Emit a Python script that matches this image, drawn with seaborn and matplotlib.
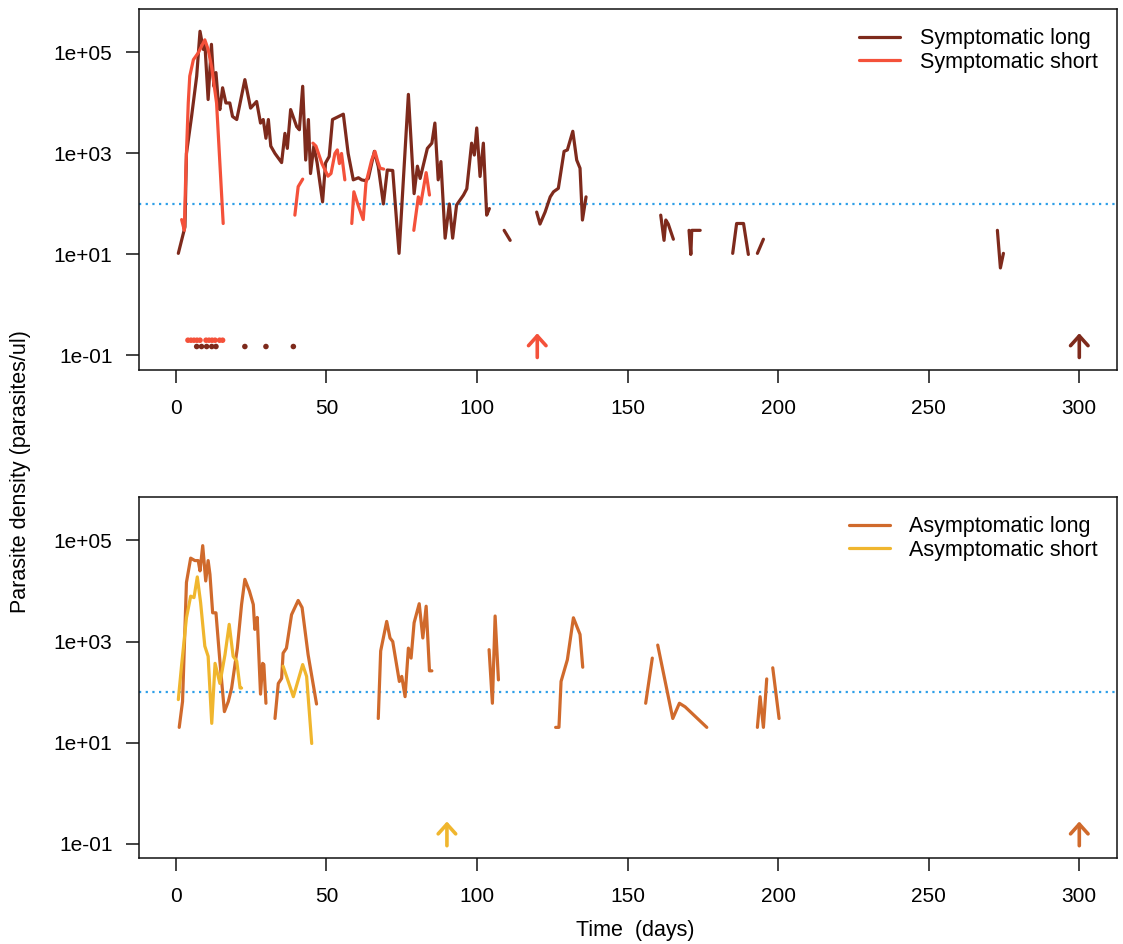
import numpy as np
import pandas as pd
import matplotlib
matplotlib.use("Agg")
import matplotlib.pyplot as plt
import seaborn as sns
from matplotlib.lines import Line2D

nan = np.nan

# -------------------------------
# data (days, parasites/ul); nan breaks a line into pieces
# -------------------------------
sym_long_days = [0.8, 3.0, 3.5, 5.2, 6.9, 8.0, 9.1, 9.6, 10.7, 11.8, 12.6, 13.3, 14.1, 14.6,
                 15.5, 16.6, 17.9, 18.8, 20.2, 22.9, 24.8, 26.8, 28.1, 29.0, 29.9, 30.7, 31.5,
                 32.9, 35.1, 36.2, 37.0, 38.1, 40.1, 41.0, 42.1, 43.1, 44.0, 44.7, 45.8, 46.9,
                 48.7, 49.7, 50.9, 52.0, 53.5, 55.6, 57.2, 58.9, 60.6, 61.7, 62.8, 63.9, 65.9,
                 67.2, 68.9, 70.2, 72.0, 74.1, 77.2, 79.1, 80.2, 81.1, 83.5, 85.0, 86.0, 87.1,
                 88.0, 89.4, 90.8, 91.9, 93.2, 95.5, 96.6, 98.2, 99.1, 99.9, 101.0, 102.1,
                 103.2, 104.1, nan,
                 109.0, 111.0, nan,
                 119.8, 120.9, 122.6, 124.3, 125.4, 127.0, 128.9, 130.0, 131.8, 133.1, 134.2,
                 135.0, 136.2, nan,
                 161.0, 162.1, 162.7, 163.5, 165.2, nan,
                 170.4, 171.0, 171.3, 174.1, nan,
                 184.9, 186.2, 188.5, 190.1, nan,
                 193.1, 195.1, nan,
                 272.8, 273.8, 274.8]
sym_long_vals = [10.5, 35, 1000, 5400, 34000, 263000, 115000, 155000, 11700, 145000, 21400,
                 40000, 10000, 7400, 20000, 10000, 10000, 5400, 4700, 29000, 7900, 10700, 4000,
                 4700, 2000, 4700, 1400, 1000, 660, 2500, 1260, 7400, 3400, 2950, 21400, 740,
                 4700, 400, 1400, 650, 110, 650, 870, 4700, 5200, 6000, 1000, 300, 330, 300,
                 290, 320, 1100, 550, 100, 470, 460, 10.5, 14800, 160, 560, 320, 1260, 1600,
                 4000, 300, 690, 21, 100, 21, 95, 150, 200, 1600, 930, 3200, 350, 1600, 60, 81,
                 nan,
                 30, 19, nan,
                 69, 40, 69, 138, 174, 204, 1100, 1175, 2750, 740, 510, 48, 138, nan,
                 60, 19, 48, 40, 20, nan,
                 30, 10, 30, 30, nan,
                 10.5, 41, 41, 10, nan,
                 10.5, 20, nan,
                 30, 5.4, 10.5]

sym_short_days = [1.9, 2.8, 3.3, 4.1, 4.6, 5.8, 7.4, 9.6, 10.7, 11.9, 13.5, 15.7, nan,
                  39.5, 40.6, 42.1, nan,
                  45.5, 46.5, 48.5, 50.5, 51.5, 52.8, 53.6, 54.3, 55.0, 56.1, nan,
                  58.4, 59.1, 60.5, 62.2, 63.1, 65.0, 66.1, 67.0, 67.8, 69.0, nan,
                  79.0, 80.5, 81.3, 83.1, 84.2]
sym_short_vals = [49, 30, 470, 10000, 34000, 72000, 98000, 178000, 115000, 50000, 10000, 41, nan,
                  60, 220, 310, nan,
                  1600, 1400, 630, 355, 400, 1000, 1175, 630, 1000, 300, nan,
                  41, 174, 95, 49, 257, 740, 1100, 700, 510, 490, nan,
                  30, 138, 100, 417, 150]

asym_long_days = [1.1, 2.2, 3.5, 4.9, 6.3, 7.4, 8.0, 8.9, 9.9, 10.7, 11.3, 12.2, 13.3, 14.6,
                  16.1, 17.4, 18.5, 20.4, 21.8, 22.9, 24.4, 25.7, 26.2, 27.0, 28.1, 28.8, 29.2,
                  29.9, nan,
                  32.9, 34.0, 35.1, 35.6, 36.7, 38.4, 40.6, 41.9, 43.9, 46.7, nan,
                  67.2, 68.0, 70.0, 71.1, 72.0, 74.2, 75.0, 76.1, 77.2, 78.1, 79.1, 80.8, 82.0,
                  83.1, 84.2, 85.0, nan,
                  104.0, 105.1, 106.0, 107.1, nan,
                  126.1, 127.2, 127.9, 130.0, 132.0, 134.2, 135.1, nan,
                  156.0, 158.2, nan,
                  160.0, 165.0, 167.2, 169.1, 176.3, nan,
                  193.1, 194.0, 195.1, 196.2, nan,
                  198.2, 200.3]
asym_long_vals = [20, 65, 14800, 44700, 40000, 40000, 25000, 79000, 15800, 40000, 21400, 3700,
                  3700, 410, 41, 65, 120, 740, 5400, 17000, 10000, 5400, 1740, 3000, 91, 370,
                  350, 60, nan,
                  30, 148, 186, 590, 740, 3400, 6500, 4700, 550, 58, nan,
                  30, 650, 2500, 1175, 1000, 162, 204, 81, 740, 470, 2350, 5600, 1175, 5000,
                  263, 263, nan,
                  690, 60, 3200, 174, nan,
                  20, 20, 162, 437, 2950, 1380, 310, nan,
                  60, 470, nan,
                  850, 30, 60, 51, 20, nan,
                  20, 81, 20, 182, nan,
                  302, 30]

asym_short_days = [0.8, 1.9, 3.5, 4.9, 6.0, 7.1, 8.2, 9.6, 10.7, 11.9, 13.0, 14.6, 16.3, 17.7,
                   19.0, 20.2, 21.3, 21.8, nan,
                   35.6, 39.0, 42.1, 43.4, 45.1]
asym_short_vals = [71, 347, 2950, 7900, 7400, 19000, 5900, 810, 510, 24, 370, 148, 550, 2190,
                   510, 410, 120, 120, nan,
                   325, 81, 350, 204, 9.6]

# samples below detection, drawn as dots near the bottom
sym_short_dot_days = [4, 5, 6, 7, 8, 10, 11, 12, 13, 14.5, 15.5]
sym_long_dot_days = [6.9, 8.5, 10.2, 11.9, 13.3, 22.9, 29.9, 39.0]
sym_short_dot_val = 0.2
sym_long_dot_val = 0.15

# follow-up end arrows: (day, base, tip)
sym_arrows = [(120, 0.091, 0.275), (300, 0.091, 0.275)]
asym_arrows = [(90, 0.091, 0.275), (300, 0.091, 0.275)]

threshold = 100
ytick_vals = [1e-1, 1e1, 1e3, 1e5]
ytick_labels = ["1e-01", "1e+01", "1e+03", "1e+05"]
xtick_vals = [0, 50, 100, 150, 200, 250, 300]

col_sym_long = "#7E2A1C"
col_sym_short = "#F4513A"
col_asym_long = "#D06A2C"
col_asym_short = "#F0B62E"
col_thr = "#2E9FE8"


def to_frame(days, vals):
    d = np.array(days, dtype=float)
    v = np.array(vals, dtype=float)
    seg = np.cumsum(np.isnan(d))
    df = pd.DataFrame({"day": d, "dens": v, "seg": seg})
    return df.dropna()


sns.set_style("ticks")
plt.rcParams["font.family"] = ["Liberation Sans", "DejaVu Sans"]
plt.rcParams["text.color"] = "black"
plt.rcParams["xtick.color"] = "black"
plt.rcParams["ytick.color"] = "black"

fig = plt.figure(figsize=(11.23, 9.44), dpi=100)
ax1 = fig.add_axes([0.1242, 0.608, 0.8704, 0.3824])
ax2 = fig.add_axes([0.1242, 0.0908, 0.8704, 0.3827])

LW = 2.3


def draw_panel(ax, series, dots, arrows, legend_labels, legend_cols):
    ax.axhline(threshold, color=col_thr, ls=(0, (1, 2)), lw=1.6, zorder=1)
    for days, vals, col in series:
        df = to_frame(days, vals)
        sns.lineplot(data=df, x="day", y="dens", units="seg", estimator=None,
                     color=col, lw=LW, ax=ax, legend=False, zorder=3)
    for ddays, dval, col in dots:
        sns.scatterplot(x=ddays, y=[dval] * len(ddays), color=col, s=16,
                        edgecolor="none", ax=ax, zorder=4)
    for (day, lo, hi), col in arrows:
        ax.annotate("", xy=(day, hi), xytext=(day, lo),
                    arrowprops=dict(arrowstyle="->,head_length=0.5,head_width=0.45",
                                    color=col, lw=2.6, mutation_scale=14,
                                    shrinkA=0, shrinkB=0))
    ax.set_yscale("log")
    ax.set_xlim(-12.1, 312.5)
    ax.set_ylim(10 ** -1.29, 10 ** 5.86)
    ax.set_yticks(ytick_vals)
    ax.set_yticklabels(ytick_labels)
    ax.yaxis.set_minor_locator(matplotlib.ticker.NullLocator())
    ax.set_xticks(xtick_vals)
    ax.set_xlabel("")
    ax.set_ylabel("")
    ax.tick_params(axis="both", length=9.5, width=1.1, labelsize=15, color="#111111",
                   labelcolor="black", direction="out")
    ax.tick_params(axis="x", pad=11)
    ax.tick_params(axis="y", pad=10)
    for sp in ax.spines.values():
        sp.set_visible(True)
        sp.set_linewidth(1.1)
        sp.set_color("#111111")
    handles = [Line2D([], [], color=c, lw=LW) for c in legend_cols]
    ax.legend(handles, legend_labels, loc="upper right", frameon=False, fontsize=15.5,
              handlelength=1.9, handletextpad=0.9, labelspacing=0.1,
              borderaxespad=0.5, labelcolor="black")


draw_panel(ax1,
           [(sym_long_days, sym_long_vals, col_sym_long),
            (sym_short_days, sym_short_vals, col_sym_short)],
           [(sym_short_dot_days, sym_short_dot_val, col_sym_short),
            (sym_long_dot_days, sym_long_dot_val, col_sym_long)],
           [(sym_arrows[0], col_sym_short), (sym_arrows[1], col_sym_long)],
           ["Symptomatic long", "Symptomatic short"],
           [col_sym_long, col_sym_short])

draw_panel(ax2,
           [(asym_long_days, asym_long_vals, col_asym_long),
            (asym_short_days, asym_short_vals, col_asym_short)],
           [],
           [(asym_arrows[0], col_asym_short), (asym_arrows[1], col_asym_long)],
           ["Asymptomatic long", "Asymptomatic short"],
           [col_asym_long, col_asym_short])

fig.text(0.018, 0.50, "Parasite density (parasites/ul)", rotation=90, va="center",
         ha="center", fontsize=15.5, color="black")
fig.text(0.566, 0.014, "Time  (days)", ha="center", va="center", fontsize=15.5,
         color="black")

fig.savefig("out.png", dpi=100)
